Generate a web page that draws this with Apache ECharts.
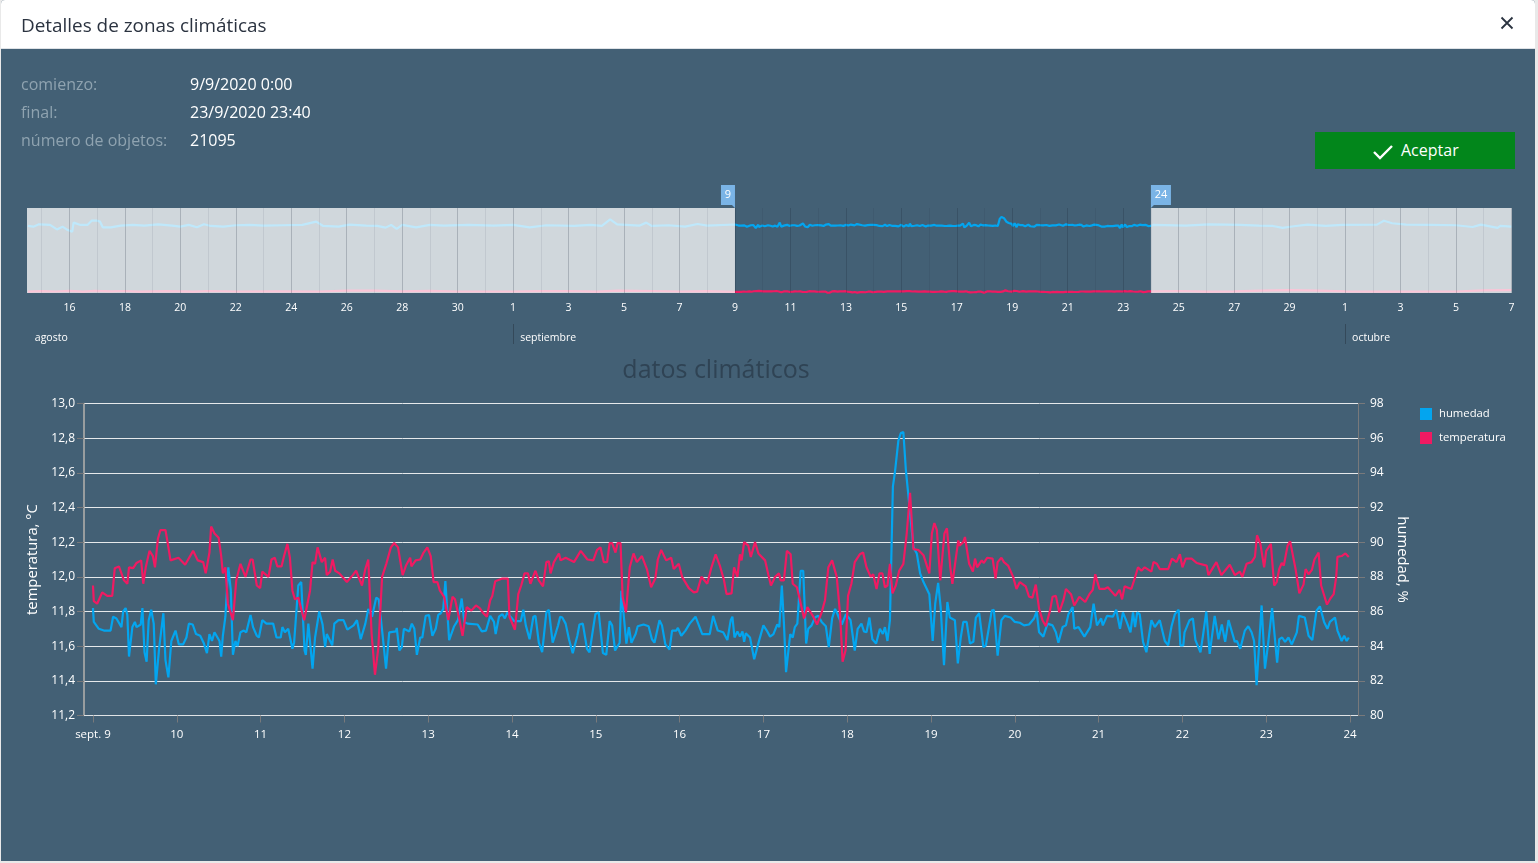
<!DOCTYPE html>
<html>
<head>
<meta charset="utf-8">
<title>Detalles de zonas climáticas</title>
<script src="https://cdn.jsdelivr.net/npm/echarts@6/dist/echarts.min.js"></script>
<style>
  html, body { margin: 0; padding: 0; background: #e9e9e9; font-family: "Open Sans", "Noto Sans", sans-serif; }
  #panel { position: absolute; left: 1px; top: 0; width: 1534px; height: 861px; background: #436075; overflow: hidden; border-radius: 4px 4px 0 0; }
  #head { position: absolute; left: 0; top: 0; width: 100%; height: 48px; background: #fff; border-bottom: 1px solid #dee2e6; color: #2b3340; font-size: 18.9px; line-height: 50px; }
  #head span { position: absolute; left: 20px; }
  #close { position: absolute; left: 1499px; top: 16px; }
  #chart { position: absolute; left: -1px; top: 0; width: 1538px; height: 863px; }
  .info { position: absolute; font-size: 16px; line-height: 22px; white-space: nowrap; }
  .lbl { color: #8fa3b0; left: 20px; }
  .val { color: #fff; left: 189px; }
  #ok { position: absolute; left: 1314px; top: 132px; width: 200px; height: 37px; background: #02861b; color: #fff; font-size: 16px; line-height: 36px; }
  #ok svg { position: absolute; left: 58px; top: 12px; }
  #ok span { position: absolute; left: 86px; }
</style>
</head>
<body>
<div id="panel">
  <div id="chart"></div>
  <div id="head"><span>Detalles de zonas climáticas</span>
    <svg id="close" width="14" height="14"><path d="M1.5 1.5 L12.5 12.5 M12.5 1.5 L1.5 12.5" stroke="#2b3340" stroke-width="1.8"/></svg>
  </div>
  <div class="info lbl" style="top:73px">comienzo:</div><div class="info val" style="top:73px">9/9/2020 0:00</div>
  <div class="info lbl" style="top:101px">final:</div><div class="info val" style="top:101px">23/9/2020 23:40</div>
  <div class="info lbl" style="top:129px">número de objetos:</div><div class="info val" style="top:129px">21095</div>
  <div id="ok"><svg width="20" height="16"><path d="M1 8 L7 14 L19 2" fill="none" stroke="#fff" stroke-width="2.4"/></svg><span>Aceptar</span></div>
</div>
<script>
// x values are days counted from sept. 9
const mainMin = -0.107, mainMax = 15.095;
const ovMin = -25.53, ovMax = 28.02;
const selStart = 0, selEnd = 15;

const mainTickDays = [0,1,2,3,4,5,6,7,8,9,10,11,12,13,14,15];
const mainTickLabels = ['sept. 9','10','11','12','13','14','15','16','17','18','19','20','21','22','23','24'];

const ovTickDays = [-24,-22,-20,-18,-16,-14,-12,-10,-8,-6,-4,-2,0,2,4,6,8,10,12,14,16,18,20,22,24,26,28];
const ovTickLabels = ['16','18','20','22','24','26','28','30','1','3','5','7','9','11','13','15','17','19','21','23','25','27','29','1','3','5','7'];
const ovMinorDays = [-25,-23,-21,-19,-17,-15,-13,-11,-9,-7,-5,-3,-1,1,3,5,7,9,11,13,15,17,19,21,23,25,27];

const monthDays = [-25.5,-8,22];
const monthLabels = ['agosto','septiembre','octubre'];
const monthStarts = [-8,22];

const humedad = [
[0,86.2],[.01,85.4],[.07,85],[.13,84.9],[.21,84.9],[.24,85.7],[.28,85.6],[.30,85.7],[.34,85.1],[.36,86],[.39,86.2],[.41,85.8],[.43,83.4],[.45,83.4],[.47,85.1],[.50,85.4],[.52,85.1],[.57,85.25],[.59,86.2],[.615,83.65],[.64,83.1],[.665,85.5],[.695,86.1],[.725,85.3],[.75,81.8],[.79,83.9],[.84,85.9],[.865,83.2],[.90,82.2],[.935,84.3],[.985,84.9],
[1.025,84.1],[1.075,84.1],[1.115,84.5],[1.145,85.3],[1.19,85.25],[1.23,84.7],[1.28,84.6],[1.32,84.2],[1.36,83.6],[1.39,84.7],[1.42,84.3],[1.45,84.8],[1.51,84.3],[1.53,83.4],[1.55,84.6],[1.58,85.7],[1.615,88.55],[1.645,87.2],[1.67,83.5],[1.70,84.3],[1.725,84],[1.76,84.8],[1.80,84.9],[1.83,84.8],[1.88,85.8],[1.91,85.1],[1.955,84.6],[1.98,84.5],
[2.02,85.5],[2.07,85.3],[2.15,85.3],[2.19,84.5],[2.24,84.5],[2.26,85.1],[2.29,84.8],[2.33,85],[2.38,83.85],[2.40,84.2],[2.45,87.5],[2.485,87.7],[2.525,83.75],[2.54,83.5],[2.57,85.3],[2.59,85.3],[2.62,82.7],[2.65,84.5],[2.70,86],[2.74,85.25],[2.77,83.95],[2.79,84.7],[2.855,84.05],[2.88,85.3],[2.93,85.5],[2.99,85.5],
[3.035,84.95],[3.11,85.2],[3.15,85.5],[3.195,84.4],[3.25,85.3],[3.285,86.15],[3.33,85.7],[3.38,86.8],[3.41,86.7],[3.455,84.7],[3.497,82.7],[3.535,84.8],[3.615,84.85],[3.625,85.05],[3.655,83.75],[3.685,83.95],[3.71,85],[3.775,84.85],[3.805,85.3],[3.835,85],[3.865,83.5],[3.905,84.5],[3.93,84.5],[3.97,85.75],
[4.01,85.8],[4.05,84.6],[4.09,85],[4.12,85.8],[4.15,85.9],[4.18,86.15],[4.205,87.75],[4.25,84.35],[4.27,84.3],[4.31,85.15],[4.355,85.5],[4.40,86.75],[4.43,85.4],[4.47,85.3],[4.59,85.25],[4.64,84.85],[4.69,84.9],[4.74,85.75],[4.785,85.4],[4.805,84.7],[4.845,85.7],[4.885,85.85],[4.915,85.6],[4.945,85.95],[4.975,85.75],
[5.025,85.45],[5.105,85.45],[5.135,86.1],[5.165,85.2],[5.21,84.4],[5.255,85.7],[5.28,85.75],[5.32,84.2],[5.36,83.65],[5.41,85.95],[5.44,86.1],[5.485,84.2],[5.525,84.8],[5.55,85.2],[5.575,85.7],[5.60,85.65],[5.64,85.3],[5.68,84.4],[5.725,83.6],[5.78,84.6],[5.805,85.25],[5.845,85.3],[5.895,83.85],[5.925,83.65],[5.955,84.6],[5.995,85.85],
[6.035,85.95],[6.085,83.6],[6.125,83.5],[6.165,85.45],[6.195,85.2],[6.23,83.75],[6.285,84.2],[6.305,87.2],[6.33,85.95],[6.365,84.15],[6.395,85.1],[6.425,84.2],[6.475,84.7],[6.50,85.15],[6.57,85.25],[6.63,85.15],[6.67,84.4],[6.70,84.2],[6.76,85.5],[6.79,85.2],[6.83,84.1],[6.88,83.8],[6.91,84.9],[6.96,84.9],[6.98,85.05],
[7.02,84.6],[7.07,84.9],[7.09,84.85],[7.12,85.3],[7.19,85.7],[7.21,85.75],[7.27,84.7],[7.36,84.7],[7.40,85.75],[7.42,85.8],[7.455,84.9],[7.52,84.8],[7.57,84.35],[7.61,85.5],[7.63,85.7],[7.655,84.5],[7.69,84.85],[7.72,84.55],[7.75,84.85],[7.77,84.25],[7.79,84.75],[7.84,84.5],[7.89,83.25],[7.95,84.35],
[8.0,85.2],[8.04,84.9],[8.08,84.55],[8.12,84.7],[8.165,85.25],[8.19,85.1],[8.22,87.5],[8.245,85.3],[8.27,82.5],[8.32,84.7],[8.35,84.5],[8.375,85.1],[8.405,85.3],[8.445,88.35],[8.475,88.35],[8.51,84.15],[8.535,85],[8.575,85.2],[8.615,85.65],[8.655,85.75],[8.695,85.4],[8.745,85.15],[8.78,83.95],[8.82,85.6],[8.855,86.15],[8.88,85.9],[8.935,85.25],[8.985,85.85],
[9.04,85.5],[9.09,83.75],[9.125,85],[9.17,85.3],[9.2,84.85],[9.23,84.8],[9.265,85.65],[9.30,84.4],[9.345,84.15],[9.39,85],[9.425,84.7],[9.45,85.1],[9.48,84.3],[9.51,85.5],[9.545,93.2],[9.57,94.05],[9.61,95.85],[9.64,96.3],[9.67,96.35],[9.70,94.15],[9.74,92.2],[9.79,89.7],[9.83,89.35],[9.87,88.2],[9.91,87.7],[9.98,87],
[10.02,84.3],[10.05,86.45],[10.085,87.65],[10.115,86.25],[10.155,82.9],[10.195,86.55],[10.225,85.65],[10.285,85.5],[10.32,83],[10.355,84.5],[10.385,85.4],[10.425,85.4],[10.465,84.15],[10.505,84.25],[10.535,85.65],[10.575,85.9],[10.625,83.95],[10.655,84.05],[10.725,86.05],[10.75,86.1],[10.795,83.45],[10.84,85.5],[10.88,85.75],[10.95,85.65],
[11.0,85.4],[11.06,85.35],[11.11,85.2],[11.17,85.25],[11.23,85.6],[11.26,86],[11.29,84.8],[11.34,84.55],[11.39,85.3],[11.45,85.2],[11.49,84.8],[11.52,84.2],[11.57,85.1],[11.61,85.2],[11.64,85.85],[11.69,86.25],[11.71,85],[11.76,85.1],[11.83,84.55],[11.90,85.1],[11.94,86.45],[11.98,85.2],
[12.03,85.6],[12.05,85.2],[12.10,85.75],[12.17,85.7],[12.21,86.1],[12.255,85],[12.29,85.95],[12.335,85.4],[12.38,84.8],[12.41,85.95],[12.435,85.1],[12.46,85.95],[12.49,85.85],[12.53,84.25],[12.57,83.65],[12.63,85.5],[12.67,85.1],[12.73,85.5],[12.79,84.3],[12.83,84.05],[12.87,85.15],[12.91,85.85],[12.955,86.1],[12.975,84.05],
[13.01,84.05],[13.025,84.8],[13.085,85.5],[13.125,85.6],[13.155,84.35],[13.215,83.65],[13.245,84.6],[13.285,86],[13.325,83.55],[13.385,85.75],[13.43,84.4],[13.47,85.25],[13.51,84.25],[13.55,85.5],[13.625,84.25],[13.65,84.3],[13.69,83.85],[13.745,84.9],[13.785,85.15],[13.825,84.8],[13.855,84.3],[13.885,81.75],[13.945,86.35],[13.985,82.7],
[14.025,84.25],[14.07,86.2],[14.13,83.05],[14.155,84.4],[14.19,84.5],[14.225,84.25],[14.265,84.5],[14.305,84.1],[14.365,84.8],[14.39,85.75],[14.46,85.65],[14.505,84.6],[14.55,84.35],[14.60,86.05],[14.64,86.3],[14.69,85.4],[14.73,85],[14.76,85.4],[14.82,85.65],[14.85,84.9],[14.90,84.3],[14.93,84.6],[14.96,84.3],[14.985,84.5]
];

const temperatura = [
[0,11.95],[.01,11.86],[.05,11.845],[.11,11.91],[.17,11.89],[.23,11.89],[.26,12.05],[.31,12.06],[.37,11.98],[.41,11.96],[.43,12.055],[.48,12.05],[.52,12.08],[.575,12.095],[.60,11.96],[.63,12.055],[.675,12.15],[.715,12.12],[.74,12.055],[.775,12.22],[.805,12.27],[.865,12.27],[.89,12.2],[.925,12.095],
[1.02,12.11],[1.10,12.07],[1.195,12.15],[1.25,12.095],[1.315,12.085],[1.345,12.02],[1.39,12.14],[1.41,12.29],[1.45,12.25],[1.50,12.225],[1.53,12.12],[1.55,12.02],[1.58,12.055],[1.61,11.845],[1.67,11.75],[1.71,11.98],[1.76,12.075],[1.82,12],[1.88,12.1],[1.905,12.1],[1.955,11.95],[1.995,11.935],
[2.02,12.03],[2.095,12],[2.13,12.1],[2.17,12.11],[2.20,12.06],[2.25,12.06],[2.28,12.12],[2.32,12.19],[2.35,12.11],[2.38,11.92],[2.41,11.87],[2.45,11.88],[2.52,11.75],[2.59,11.92],[2.62,12.085],[2.65,12.075],[2.68,12.17],[2.73,12.085],[2.77,12.11],[2.79,12.01],[2.83,12.03],[2.86,12.1],[2.89,12.035],[2.94,12.02],
[3.03,11.97],[3.10,12.01],[3.14,12.035],[3.21,11.95],[3.25,12.045],[3.285,12.1],[3.325,11.67],[3.365,11.435],[3.405,11.59],[3.45,12],[3.50,12.075],[3.555,12.17],[3.595,12.195],[3.64,12.17],[3.695,12.01],[3.735,12.065],[3.785,12.11],[3.80,12.06],[3.85,12.095],[3.905,12.1],[3.945,12.14],[3.99,12.17],
[4.03,12.12],[4.065,11.97],[4.11,11.97],[4.14,11.92],[4.19,11.885],[4.24,11.75],[4.29,11.885],[4.32,11.87],[4.37,11.76],[4.41,11.66],[4.46,11.825],[4.515,11.805],[4.57,11.835],[4.615,11.82],[4.65,11.795],[4.70,11.77],[4.74,11.865],[4.765,11.89],[4.80,11.975],[4.885,11.99],[4.95,11.99],[4.97,11.77],
[5.035,11.695],[5.075,11.9],[5.11,11.95],[5.15,12.02],[5.19,12.02],[5.22,11.96],[5.28,12.035],[5.32,11.98],[5.37,11.945],[5.41,12.085],[5.44,12.09],[5.46,12.02],[5.50,12.085],[5.56,12.135],[5.58,12.095],[5.64,12.11],[5.74,12.085],[5.82,12.15],[5.90,12.1],[5.97,12.095],
[6.015,12.155],[6.055,12.17],[6.095,12.085],[6.135,12.085],[6.165,12.195],[6.195,12.195],[6.235,12.14],[6.26,12.195],[6.295,12.195],[6.32,11.885],[6.36,11.795],[6.405,12.055],[6.45,12.135],[6.49,12.085],[6.55,12.12],[6.61,12.045],[6.66,11.94],[6.71,11.99],[6.74,12.1],[6.78,12.155],[6.84,12.095],[6.90,12.11],[6.93,12.045],[6.99,12.075],
[7.03,12],[7.11,11.935],[7.17,11.91],[7.21,11.915],[7.26,12],[7.33,11.96],[7.38,12.055],[7.43,12.13],[7.48,12.065],[7.53,11.98],[7.56,11.9],[7.62,11.905],[7.65,12.055],[7.69,12],[7.72,12.13],[7.74,12.095],[7.77,12.2],[7.82,12.18],[7.85,12.115],[7.90,12.2],[7.94,12.135],
[8.02,12.095],[8.06,12.01],[8.09,11.95],[8.14,12],[8.185,12.02],[8.205,11.98],[8.245,11.98],[8.28,12.15],[8.325,12.13],[8.35,11.96],[8.40,11.94],[8.425,11.89],[8.485,11.76],[8.525,11.825],[8.595,11.77],[8.64,11.725],[8.695,11.795],[8.735,11.865],[8.775,12.055],[8.82,12.095],[8.875,12],[8.915,11.785],[8.945,11.51],[8.98,11.575],
[9.01,11.89],[9.05,11.96],[9.09,12.085],[9.15,12.13],[9.19,12.14],[9.23,12.055],[9.28,12],[9.31,12.015],[9.35,11.93],[9.385,12.02],[9.42,12.02],[9.45,11.94],[9.48,11.95],[9.51,12.075],[9.54,11.905],[9.58,11.95],[9.62,12.035],[9.67,12.075],[9.71,12.25],[9.75,12.485],[9.79,12.16],[9.85,12.155],[9.91,12.125],[9.98,12.02],
[10.01,12.25],[10.04,12.31],[10.07,12.27],[10.11,11.98],[10.16,12.25],[10.19,12.28],[10.23,12.055],[10.255,11.96],[10.325,12.21],[10.34,12.18],[10.385,12.2],[10.405,12.23],[10.455,12.075],[10.50,12.03],[10.525,12.105],[10.55,12.055],[10.605,12.095],[10.63,12.08],[10.67,12.11],[10.735,12.105],[10.77,11.99],[10.795,12.085],[10.84,12.11],[10.87,12.085],[10.92,12.065],[10.98,12],
[11.02,11.93],[11.06,11.97],[11.13,11.945],[11.17,11.885],[11.21,11.88],[11.25,11.955],[11.29,11.815],[11.33,11.75],[11.37,11.715],[11.42,11.805],[11.45,11.885],[11.49,11.89],[11.53,11.795],[11.58,11.865],[11.61,11.93],[11.67,11.9],[11.71,11.835],[11.77,11.885],[11.84,11.855],[11.89,11.9],[11.93,11.925],[11.96,12.015],
[12.01,11.93],[12.07,11.93],[12.11,11.94],[12.20,11.89],[12.25,11.925],[12.28,11.87],[12.31,11.945],[12.39,11.93],[12.43,11.99],[12.47,12.055],[12.51,12.035],[12.55,12.055],[12.63,12.03],[12.655,12.085],[12.695,12.075],[12.73,12.045],[12.83,12.045],[12.875,12.105],[12.93,12.085],[12.97,12.13],
[13.0,12.055],[13.04,12.105],[13.11,12.105],[13.17,12.08],[13.29,12.065],[13.31,12.01],[13.405,12.085],[13.465,12.01],[13.565,12.07],[13.625,12.01],[13.685,12.03],[13.715,12],[13.765,12.075],[13.825,12.085],[13.865,12.115],[13.89,12.24],[13.93,12.19],[13.975,12.055],
[14.0,12.15],[14.055,12.19],[14.095,11.95],[14.125,11.97],[14.155,12.045],[14.185,12.08],[14.21,12.065],[14.255,12.18],[14.285,12.205],[14.35,12.045],[14.395,11.905],[14.445,11.955],[14.47,12.045],[14.505,12.015],[14.545,12.04],[14.575,12.1],[14.625,12.14],[14.655,11.95],[14.725,11.84],[14.765,11.875],[14.805,11.9],[14.835,12],[14.85,12.115],[14.90,12.12],[14.945,12.135],[14.985,12.115]
];

// overview strip, outside the selected window
const humBefore = [[-25.5,84.5],[-25.3,83.5],[-25.1,86.5],[-24.7,85.7],[-24.45,80],[-24.25,83.5],[-24.1,80],[-23.9,77],[-23.85,88.6],[-23.6,85.7],[-23.35,85.7],[-23.2,91],[-23,91],[-22.9,89.9],[-22.8,82.7],[-22.5,82.7],[-22.15,84.8],[-21.7,85.7],[-21.3,84.8],[-20.8,86.5],[-20.3,84.8],[-20,83.5],[-19.7,85.7],[-19.4,82.7],[-19.15,86.5],[-18.9,84.4],[-18.45,83.5],[-18,85.3],[-17.5,85.7],[-17,84.8],[-16.3,85.3],[-15.6,85.7],[-15.1,89.9],[-14.85,84.4],[-14.3,83.5],[-13.9,86.1],[-13.3,84.8],[-12.9,84.4],[-12.6,82.3],[-12.4,85.7],[-12.2,80.6],[-12,85.7],[-11.5,82.7],[-11,85.7],[-10.5,84.8],[-9.6,85.7],[-8.7,84.8],[-8,85.7],[-7.4,82.7],[-6.8,85.3],[-5.8,84.4],[-5.2,85.7],[-4.8,84.4],[-4.5,92.8],[-4.25,86.5],[-3.45,84.8],[-3.2,88.6],[-3,84.4],[-2.4,85.3],[-1.8,83.5],[-1.35,86.9],[-1,84.8]];
const humAfter = [[15.1,85.7],[16.25,84.8],[17.1,86.5],[18.2,85.7],[18.9,84.8],[19.4,84.4],[19.75,81.9],[20.15,84],[20.65,86.1],[21.3,84.4],[21.9,85.7],[23.15,86.1],[23.4,91],[23.7,87.8],[24.2,86.1],[25.1,85.7],[26,85.3],[26.6,83.1],[26.9,86.1],[27.5,81.9],[27.6,84.4],[28,83.5]];
const tempBefore = [[-25.5,12],[-25,12.2],[-24.5,12.05],[-24,12.3],[-23.5,12],[-23.1,12.3],[-22.5,12.1],[-22,12.25],[-21.5,12],[-20.5,12.2],[-19.5,12],[-19,12.25],[-18,12.05],[-16.5,12.1],[-15,12.05],[-14,12.4],[-13,12.35],[-12,12.1],[-11,12.3],[-10,12.05],[-8,12.05],[-7,12.2],[-6,12.25],[-5,12],[-4.2,12.35],[-3,12.25],[-2,12.05],[-1,12.2]];
const tempAfter = [[15.1,12.1],[16,12.25],[17,12],[18,12.1],[19,12.35],[20,12.6],[21,12.4],[22,12.1],[23.5,12],[25,12.05],[26,12.05],[27,12.45],[28,12.55]];

const humedadFull = humBefore.concat(humedad, humAfter);
const temperaturaFull = tempBefore.concat(temperatura, tempAfter);

const white = '#ffffff', tickGrey = '#78797b';
const fontName = '"Open Sans", "Noto Sans", sans-serif';

function stripLine(name, yAxisIndex, data, color) {
  return { name, type: 'line', xAxisIndex: 1, yAxisIndex, data, showSymbol: false, z: 3,
    lineStyle: { color, width: 2.2 }, itemStyle: { color } };
}

// empty series that only carries the day lines of the strip
function dayLines(name, days, color) {
  return { name, type: 'line', xAxisIndex: 1, yAxisIndex: 2, data: [], z: 11,
    markLine: { silent: true, symbol: 'none', label: { show: false }, z: 11,
      lineStyle: { color, width: 1, type: 'solid' },
      data: days.map(d => ({ xAxis: d })) } };
}

const chart = echarts.init(document.getElementById('chart'));
chart.setOption({
  animation: false,
  textStyle: { fontFamily: fontName },
  title: { text: 'datos climáticos', left: 711, top: 353, textAlign: 'center',
    textStyle: { color: '#2f4354', fontSize: 25, fontWeight: 'normal', fontFamily: fontName } },
  legend: { data: ['humedad', 'temperatura'], orient: 'vertical', left: 1415, top: 403, icon: 'rect',
    itemWidth: 12, itemHeight: 12, itemGap: 12, textStyle: { color: white, fontSize: 11.3, padding: [0, 0, 0, 2] } },
  grid: [
    { left: 84, top: 403.5, width: 1274, height: 312 },
    { left: 27, top: 208, width: 1485, height: 85 }
  ],
  xAxis: [
    { type: 'value', gridIndex: 0, min: mainMin, max: mainMax, splitLine: { show: false },
      axisLine: { lineStyle: { color: '#dfe3e6' } },
      axisTick: { customValues: mainTickDays, length: 7, lineStyle: { color: tickGrey } },
      axisLabel: { customValues: mainTickDays, color: white, fontSize: 11.5, margin: 13,
        formatter: v => mainTickLabels[mainTickDays.indexOf(v)] } },
    { type: 'value', gridIndex: 1, min: ovMin, max: ovMax, splitLine: { show: false },
      axisLine: { show: false },
      axisTick: { show: false },
      axisLabel: { customValues: ovTickDays, color: white, fontSize: 10.5, margin: 10,
        formatter: v => ovTickLabels[ovTickDays.indexOf(v)] } },
    { type: 'value', gridIndex: 1, min: ovMin, max: ovMax, position: 'bottom', offset: 31, splitLine: { show: false },
      axisLine: { show: false },
      axisTick: { show: true, customValues: monthStarts, length: 20, lineStyle: { color: '#34495a' } },
      axisLabel: { customValues: monthDays, color: white, fontSize: 10.5, margin: 9, align: 'left', padding: [0, 0, 0, 7],
        formatter: v => monthLabels[monthDays.indexOf(v)] } }
  ],
  yAxis: [
    { type: 'value', gridIndex: 0, min: 11.2, max: 13, interval: 0.2, name: 'temperatura, °C',
      nameLocation: 'middle', nameRotate: 90, nameGap: 38, nameTextStyle: { color: white, fontSize: 14.8 },
      axisLine: { show: true, onZero: false, lineStyle: { color: '#b4b2ae', width: 1.5 } },
      axisTick: { show: true, length: 7, lineStyle: { color: tickGrey } },
      axisLabel: { color: white, fontSize: 12, margin: 9, padding: [2, 0, 0, 0], formatter: v => v.toFixed(1).replace('.', ',') },
      splitLine: { lineStyle: { color: '#e6e9eb', width: 1 } } },
    { type: 'value', gridIndex: 0, min: 80, max: 98, interval: 2, position: 'right', name: 'humedad, %',
      nameLocation: 'middle', nameRotate: -90, nameGap: 28, nameTextStyle: { color: white, fontSize: 14.8 },
      axisLine: { show: true, onZero: false, lineStyle: { color: tickGrey } },
      axisTick: { show: true, length: 7, lineStyle: { color: tickGrey } },
      axisLabel: { color: white, fontSize: 12, margin: 12, padding: [2, 0, 0, 0] },
      splitLine: { show: false } },
    { type: 'value', gridIndex: 1, min: 0, max: 107, show: false, splitLine: { show: false } },
    { type: 'value', gridIndex: 1, min: 11.5, max: 43, show: false, splitLine: { show: false } }
  ],
  series: [
    { name: 'humedad', type: 'line', xAxisIndex: 0, yAxisIndex: 1, data: humedad, showSymbol: false, z: 3,
      lineStyle: { color: '#03a5ef', width: 2.2 }, itemStyle: { color: '#03a5ef' } },
    { name: 'temperatura', type: 'line', xAxisIndex: 0, yAxisIndex: 0, data: temperatura, showSymbol: false, z: 4,
      lineStyle: { color: '#f01a62', width: 2.2 }, itemStyle: { color: '#f01a62' } },
    stripLine('humedad resumen', 2, humedadFull, '#03a5ef'),
    stripLine('temperatura resumen', 3, temperaturaFull, '#f01a62'),
    { name: 'seleccion', type: 'line', xAxisIndex: 1, yAxisIndex: 2, data: [], z: 9,
      markArea: { silent: true, z: 9, itemStyle: { color: 'rgba(255,255,255,0.75)' },
        data: [
          [{ xAxis: ovMin, yAxis: 0 }, { xAxis: selStart, yAxis: 107 }],
          [{ xAxis: selEnd, yAxis: 0 }, { xAxis: ovMax, yAxis: 107 }]
        ] },
      markPoint: { silent: true, z: 12,
        label: { color: white, fontSize: 11 },
        itemStyle: { color: '#7ab4e6' },
        data: [
          { coord: [selStart, 107], value: '9', symbol: 'path://M0 0H14V23L11 20H0Z', symbolSize: [14, 23], symbolOffset: [-7, -11.5], symbolKeepAspect: false,
            label: { formatter: '9', offset: [0, -2] } },
          { coord: [selEnd, 107], value: '24', symbol: 'path://M0 0H20V20H3L0 23Z', symbolSize: [20, 23], symbolOffset: [10, -11.5], symbolKeepAspect: false,
            label: { formatter: '24', offset: [0, -2] } }
        ] }
    },
    dayLines('dias pares', ovTickDays, 'rgba(20,30,45,0.2)'),
    dayLines('dias impares', ovMinorDays, 'rgba(20,30,45,0.08)')
  ]
});
</script>
</body>
</html>
